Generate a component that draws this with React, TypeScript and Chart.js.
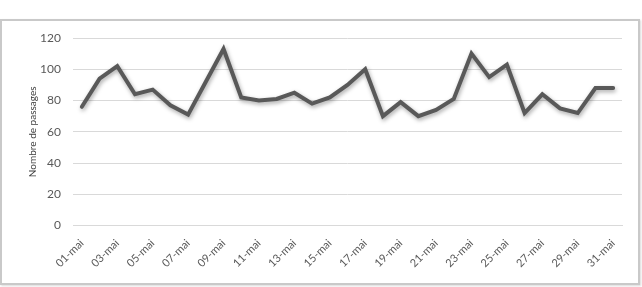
import React, { useEffect, useRef } from "react";
import { Chart, registerables } from "chart.js";

Chart.register(...registerables);

const categories: string[] = [
  "01-mai", "02-mai", "03-mai", "04-mai", "05-mai", "06-mai", "07-mai", "08-mai",
  "09-mai", "10-mai", "11-mai", "12-mai", "13-mai", "14-mai", "15-mai", "16-mai",
  "17-mai", "18-mai", "19-mai", "20-mai", "21-mai", "22-mai", "23-mai", "24-mai",
  "25-mai", "26-mai", "27-mai", "28-mai", "29-mai", "30-mai", "31-mai",
];

const passages: number[] = [
  76, 94, 102, 84, 87, 77, 71, 92, 113, 82, 80, 81, 85, 78, 82, 90,
  100, 70, 79, 70, 74, 81, 110, 95, 103, 72, 84, 75, 72, 88, 88,
];

const yTicks: number[] = [0, 20, 40, 60, 80, 100, 120];

const shadowPlugin = {
  id: "lineShadow",
  beforeDatasetDraw(chart: any) {
    const ctx = chart.ctx;
    ctx.save();
    ctx.shadowColor = "rgba(0,0,0,0.35)";
    ctx.shadowBlur = 4;
    ctx.shadowOffsetX = 1;
    ctx.shadowOffsetY = 2;
  },
  afterDatasetDraw(chart: any) {
    chart.ctx.restore();
  },
};

export default function App() {
  const ref = useRef<HTMLCanvasElement | null>(null);

  useEffect(() => {
    document.body.style.margin = "0";
    const canvas = ref.current;
    if (!canvas) return;
    const chart = new Chart(canvas, {
      type: "line",
      data: {
        labels: categories,
        datasets: [
          {
            data: passages,
            borderColor: "#595959",
            borderWidth: 4,
            pointRadius: 0,
            tension: 0,
            borderJoinStyle: "miter",
            borderCapStyle: "round",
            fill: false,
          },
        ],
      },
      options: {
        animation: false,
        responsive: false,
        maintainAspectRatio: false,
        layout: { padding: { left: 27, top: 38, right: 20, bottom: 14 } },
        plugins: {
          legend: { display: false },
          tooltip: { enabled: false },
        },
        scales: {
          x: {
            offset: true,
            grid: { display: false },
            border: { display: true, color: "#d9d9d9" },
            afterFit: (scale: any) => {
              scale.paddingLeft = 0;
              scale.paddingRight = 0;
            },
            ticks: {
              autoSkip: false,
              minRotation: 45,
              maxRotation: 45,
              color: "#595959",
              font: { family: "Lato, sans-serif", size: 11 },
              callback: (_v: any, i: number) => (i % 2 === 0 ? categories[i] : ""),
            },
          },
          y: {
            min: 0,
            max: 120,
            afterBuildTicks: (axis: any) => {
              axis.ticks = yTicks.map((v) => ({ value: v }));
            },
            afterFit: (scale: any) => {
              scale.width = 46;
            },
            grid: { color: "#d9d9d9", drawTicks: false },
            border: { display: false },
            ticks: {
              color: "#595959",
              padding: 12,
              font: { family: "Lato, sans-serif", size: 12 },
            },
            title: {
              display: true,
              text: "Nombre de passages",
              color: "#404040",
              font: { family: "Lato, sans-serif", size: 10 },
              padding: { top: 0, bottom: 2 },
            },
          },
        },
      },
      plugins: [shadowPlugin],
    });
    return () => chart.destroy();
  }, []);

  return (
    <div style={{ position: "fixed", left: 0, top: 0, width: 642, height: 287, background: "#fff" }}>
      <div
        style={{
          position: "absolute",
          left: 0,
          top: 19,
          width: 636,
          height: 262,
          border: "2px solid #c9c9c9",
          boxShadow: "1px 1px 2px rgba(0,0,0,0.15)",
        }}
      />
      <canvas ref={ref} width={642} height={287} style={{ position: "absolute", left: 0, top: 0 }} />
    </div>
  );
}
